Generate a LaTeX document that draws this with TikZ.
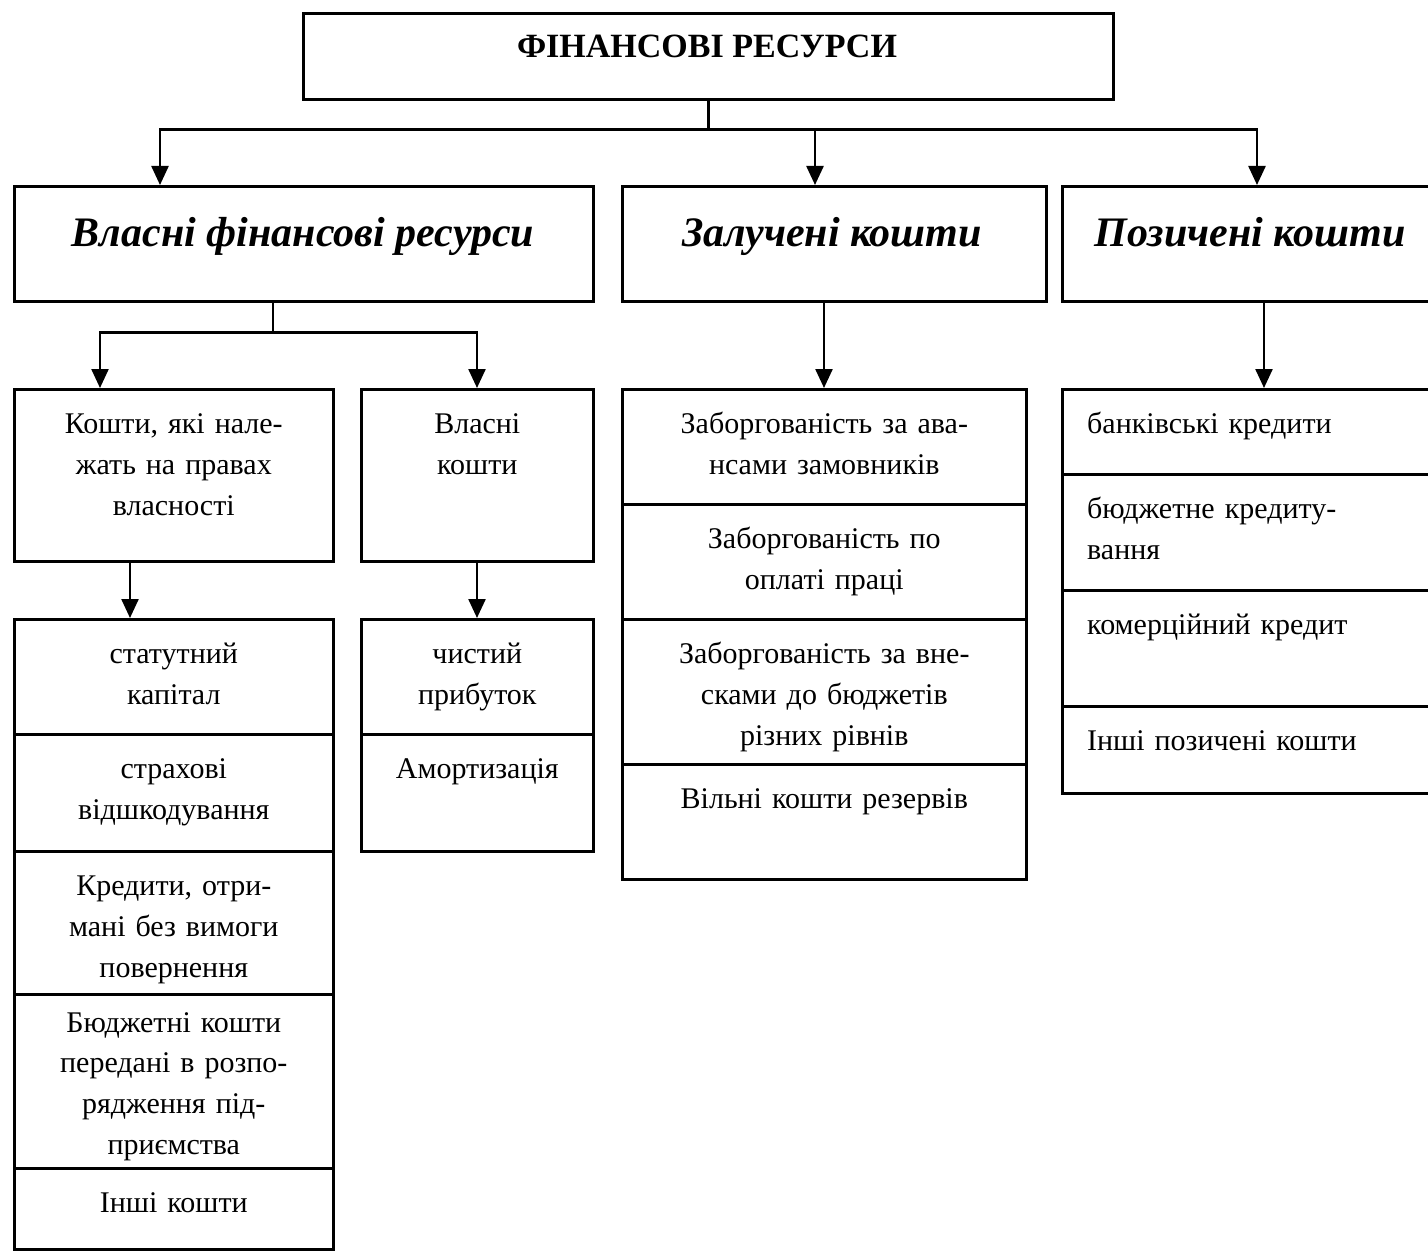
\documentclass[tikz,border=0pt]{standalone}
\usepackage{fontspec}
\setmainfont{Liberation Serif}
\usetikzlibrary{arrows.meta}

\begin{document}
\begin{tikzpicture}[x=1pt, y=-1pt,
  box/.style={draw, line width=2.6pt, anchor=north west, inner sep=0pt},
  txt/.style={font=\fontsize{30}{41}\selectfont, text width=380pt, align=center, anchor=base, inner sep=0pt},
  ltxt/.style={font=\fontsize{30}{41}\selectfont, text width=340pt, align=left, anchor=base west, inner sep=0pt},
  head/.style={font=\fontsize{42}{50}\selectfont\bfseries\itshape, anchor=base, inner sep=0pt},
  conn/.style={line width=2.4pt},
  arr/.style={conn, -{Triangle[length=19pt,width=17pt]}}]

\useasboundingbox (0,0) rectangle (1428,1252);
\clip (0,0) rectangle (1428,1252);

% top
\node[box, minimum width=810, minimum height=86] (fin) at (302,12) {};
\node[font=\fontsize{34}{40}\selectfont\bfseries, anchor=base, inner sep=0pt] (tfin) at (707,58) {ФІНАНСОВІ РЕСУРСИ};

% level 2
\node[box, minimum width=579, minimum height=115] (own) at (13,185) {};
\node[box, minimum width=424, minimum height=115] (raised) at (621,185) {};
\node[box, minimum width=380, minimum height=115] (borrowed) at (1061,185) {};
\node[head] (town) at (303,247) {Власні фінансові ресурси};
\node[head] (traised) at (832,247) {Залучені кошти};
\node[head] (tborrowed) at (1250,247) {Позичені кошти};

% level 3
\node[box, minimum width=319, minimum height=172] (prop) at (13,388) {};
\node[box, minimum width=232, minimum height=172] (ownf) at (360,388) {};
\node[txt] (tprop) at ([yshift=-45pt]prop.north) {Кошти, які нале-\\жать на правах\\власності};
\node[txt] (townf) at ([yshift=-45pt]ownf.north) {Власні\\кошти};

% lists
\foreach \n/\ya/\yb/\d/\t in {a1/618/733/45/{статутний\\капітал},
    a2/733/850/45/{страхові\\відшкодування},
    a3/850/993/45/{Кредити, отри-\\мані без вимоги\\повернення},
    a4/993/1167/39/{\baselineskip=40.5pt Бюджетні кошти\\передані в розпо-\\рядження під-\\приємства},
    a5/1167/1248/45/{Інші кошти}} {
  \node[box, minimum width=319, minimum height=\yb-\ya] (\n) at (13,\ya) {};
  \node[txt] (t\n) at ([yshift=-\d pt]\n.north) {\t};
}

\foreach \n/\ya/\yb/\t in {n1/618/733/{чистий\\прибуток},
    n2/733/850/{Амортизація}} {
  \node[box, minimum width=232, minimum height=\yb-\ya] (\n) at (360,\ya) {};
  \node[txt] (t\n) at ([yshift=-45pt]\n.north) {\t};
}

\foreach \n/\ya/\yb/\t in {b1/388/503/{Заборгованість за ава-\\нсами замовників},
    b2/503/618/{Заборгованість по\\оплаті праці},
    b3/618/763/{Заборгованість за вне-\\сками до бюджетів\\різних рівнів},
    b4/763/878/{Вільні кошти резервів}} {
  \node[box, minimum width=404, minimum height=\yb-\ya] (\n) at (621,\ya) {};
  \node[txt] (t\n) at ([yshift=-45pt]\n.north) {\t};
}

\foreach \n/\ya/\yb/\t in {c1/388/473/{банківські кредити},
    c2/473/589/{бюджетне кредиту-\\вання},
    c3/589/705/{комерційний кредит},
    c4/705/792/{Інші позичені кошти}} {
  \node[box, minimum width=380, minimum height=\yb-\ya] (\n) at (1061,\ya) {};
  \node[ltxt] (t\n) at ([xshift=26pt,yshift=-45pt]\n.north west) {\t};
}

% connectors
\draw[conn] (fin.south) -- ++(0,29) coordinate (hub);
\draw[arr] (hub) -| ([xshift=147pt]own.north west);
\draw[arr] (hub) -| ([xshift=194pt]raised.north west);
\draw[arr] (hub) -| ([xshift=196pt]borrowed.north west);

\draw[conn] ([xshift=260pt]own.south west) -- ++(0,30) coordinate (hubown);
\draw[arr] (hubown) -| ([xshift=87pt]prop.north west);
\draw[arr] (hubown) -| ([xshift=117pt]ownf.north west);

\draw[arr] ([xshift=203pt]raised.south west) -- ([xshift=203pt]b1.north west);
\draw[arr] ([xshift=203pt]borrowed.south west) -- ([xshift=203pt]c1.north west);
\draw[arr] ([xshift=117pt]prop.south west) -- ([xshift=117pt]a1.north west);
\draw[arr] ([xshift=117pt]ownf.south west) -- ([xshift=117pt]n1.north west);
\end{tikzpicture}
\end{document}
